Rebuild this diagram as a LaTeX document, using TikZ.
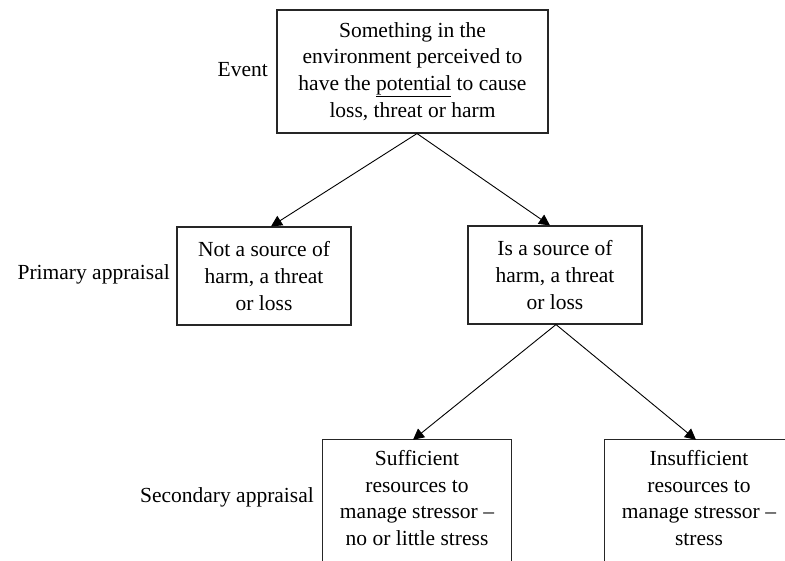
\documentclass[tikz,border=0pt]{standalone}
\usepackage{fontspec}
\setmainfont{Liberation Serif}
\usetikzlibrary{arrows.meta,positioning}
\begin{document}
\begin{tikzpicture}[x=1pt,y=-1pt,
  every node/.style={font=\fontsize{21.5}{26.8}\selectfont, inner sep=0pt},
  box/.style={draw=black!85, line width=1.1pt, align=center},
  openbox/.style={align=center},
  edge/.style={draw=black!85, line width=1.1pt},
  lbl/.style={anchor=east},
  link/.style={line width=0.9pt, -{Triangle[length=11pt,width=11pt]}}]
\useasboundingbox (0,0) rectangle (785,561);
\clip (0,0) rectangle (785,561);

% appraisal stages
\node[box, minimum width=271pt, minimum height=123pt] (event) at (412.5,71.5)
  {Something in the\\environment perceived to\\have the \underline{potential} to cause\\loss, threat or harm};
\node[box, minimum width=174pt, minimum height=98pt] (notsrc) at (264,276)
  {Not a source of\\harm, a threat\\or loss};
\node[box, minimum width=174pt, minimum height=98pt] (issrc) at (555,275)
  {Is a source of\\harm, a threat\\or loss};
\node[openbox, minimum width=188pt, minimum height=116pt] (suff) at (417,498)
  {Sufficient\\resources to\\manage stressor --\\no or little stress};
\node[openbox, minimum width=188pt, minimum height=116pt] (insuff) at (699,498)
  {Insufficient\\resources to\\manage stressor --\\stress};

% the lower boxes run on past the bottom edge
\foreach \b in {suff,insuff}
  \draw[edge] ([yshift=-30pt]\b.south west) -- (\b.north west) -- (\b.north east) -- ([yshift=-30pt]\b.south east);

% stage labels
\node[lbl] (levent) at (268,70) {Event};
\node[lbl] (lprim) at (170,274) {Primary appraisal};
\node[lbl] (lsec) at (314,497) {Secondary appraisal};

% branches
\draw[link] ([xshift=4.5pt]event.south) -- ([xshift=7pt]notsrc.north);
\draw[link] ([xshift=4.5pt]event.south) -- ([xshift=-5pt]issrc.north);
\draw[link] ([xshift=1pt]issrc.south) -- ([xshift=-4pt]suff.north);
\draw[link] ([xshift=1pt]issrc.south) -- ([xshift=-3pt]insuff.north);
\end{tikzpicture}
\end{document}
